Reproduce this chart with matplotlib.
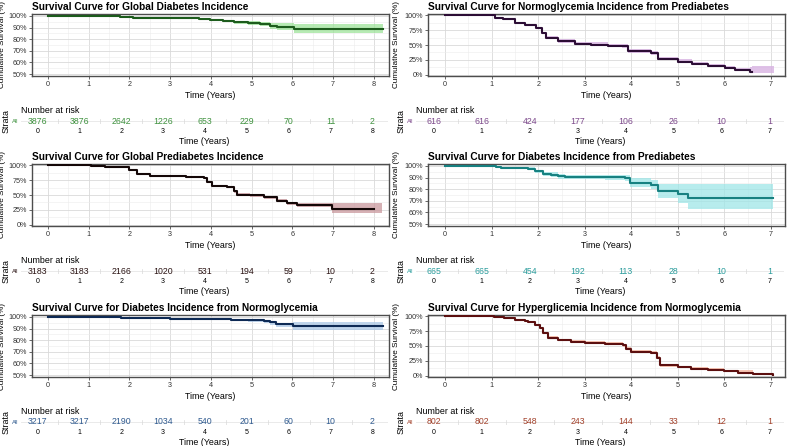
import matplotlib
matplotlib.use("Agg")
import matplotlib.pyplot as plt
import numpy as np

plt.rcParams['font.family'] = ['Liberation Sans', 'DejaVu Sans']

# ---- data ----
p1_title = "Survival Curve for Global Diabetes Incidence"
p1_time = [0, 1.5, 1.77, 1.95, 2.1, 2.4, 3.7, 3.98, 4.3, 4.56, 4.9, 5.2, 5.45, 5.62, 6.03, 8.22]
p1_surv = [100, 99.8, 99.3, 98.9, 98.4, 97.9, 97.6, 96.4, 95.8, 94.8, 94.2, 93.2, 91.5, 90.4, 89.0, 89.0]
p1_lower = [100, 99.7, 99.0, 98.5, 97.9, 97.3, 96.9, 95.5, 94.7, 93.4, 92.5, 91.1, 88.8, 87.6, 85.3, 85.3]
p1_upper = [100, 99.9, 99.5, 99.2, 98.8, 98.4, 98.2, 97.2, 96.8, 96.0, 95.7, 95.0, 94.0, 94.0, 93.4, 93.4]
p1_risk = [3876, 3876, 2642, 1226, 653, 229, 70, 11, 2]

p2_title = "Survival Curve for Normoglycemia Incidence from Prediabetes"
p2_time = [0, 1.08, 1.24, 1.49, 1.71, 1.96, 2.07, 2.17, 2.42, 2.78, 3.14, 3.5, 3.79, 3.93, 4.43,
           4.58, 5.0, 5.3, 5.65, 6.01, 6.23, 6.55, 6.6, 7.06]
p2_surv = [100, 96.5, 93.7, 86.8, 84.0, 79.0, 70.0, 62.0, 56.0, 52.0, 50.6, 48.0, 47.5, 39.0, 36.0,
           26.4, 22.0, 17.0, 14.4, 11.5, 7.5, 4.6, 4.6, 4.6]
p2_lower = [100, 95.6, 92.6, 85.4, 82.4, 77.3, 68.2, 60.1, 54.0, 50.0, 48.5, 45.9, 45.3, 36.9, 33.9,
            24.5, 20.2, 15.4, 12.8, 10.0, 6.2, 3.5, 3.0, 3.0]
p2_upper = [100, 97.6, 95.2, 88.6, 86.1, 81.3, 72.5, 65.0, 59.4, 55.6, 54.3, 51.9, 51.5, 42.8, 40.0,
            30.2, 25.8, 20.6, 18.0, 15.0, 10.8, 12.0, 14.0, 14.0]
p2_line_end = 6.6
p2_risk = [616, 616, 424, 177, 106, 26, 10, 1]

p3_title = "Survival Curve for Global Prediabetes Incidence"
p3_time = [0, 1.05, 1.4, 1.77, 2.0, 2.18, 2.5, 3.0, 3.4, 3.82, 3.9, 4.02, 4.39, 4.56, 4.64, 4.97,
           5.3, 5.62, 5.87, 6.12, 6.98, 8.0, 8.21]
p3_surv = [100, 99.0, 97.8, 96.6, 91.6, 86.0, 83.0, 81.5, 79.8, 78.7, 72.0, 65.7, 63.0, 56.0, 50.6,
           49.4, 46.0, 40.4, 36.0, 33.7, 27.0, 27.0, 27.0]
p3_lower = [100, 98.7, 97.3, 96.0, 90.8, 85.0, 81.9, 80.3, 78.5, 77.3, 70.4, 64.0, 61.2, 54.0, 48.5,
            47.2, 43.6, 37.8, 33.2, 30.5, 20.0, 20.0, 20.0]
p3_upper = [100, 99.3, 98.3, 97.2, 92.4, 87.0, 84.1, 82.7, 81.1, 80.1, 73.6, 67.4, 64.8, 58.0, 52.7,
            51.6, 48.4, 43.0, 38.8, 36.6, 36.6, 36.6, 36.6]
p3_line_end = 8.0
p3_risk = [3183, 3183, 2166, 1020, 531, 194, 59, 10, 2]

p4_title = "Survival Curve for Diabetes Incidence from Prediabetes"
p4_time = [0, 1.1, 1.2, 1.49, 1.78, 1.92, 2.1, 2.28, 2.42, 2.57, 3.43, 3.86, 3.97, 4.43, 4.58, 5.0, 5.22, 7.05]
p4_surv = [100, 99.3, 98.6, 98.0, 97.7, 95.4, 93.4, 92.5, 91.0, 90.5, 90.2, 89.7, 85.6, 84.0, 78.4, 75.6, 72.4, 72.4]
p4_lower = [100, 98.9, 97.9, 97.1, 96.7, 94.0, 91.7, 90.6, 89.0, 88.4, 88.0, 87.3, 82.0, 80.3, 72.4, 68.4, 63.2, 63.2]
p4_upper = [100, 99.7, 99.3, 98.9, 98.7, 96.7, 95.1, 94.4, 93.0, 92.6, 92.4, 92.1, 89.3, 88.3, 84.8, 84.2, 84.2, 84.2]
p4_risk = [665, 665, 454, 192, 113, 28, 10, 1]

p5_title = "Survival Curve for Diabetes Incidence from Normoglycemia"
p5_time = [0, 1.0, 1.2, 1.8, 2.0, 2.5, 3.0, 3.95, 4.5, 4.9, 5.3, 5.45, 5.6, 6.02, 8.22]
p5_surv = [100, 99.8, 99.6, 99.4, 99.0, 98.7, 98.5, 97.9, 97.5, 97.1, 96.4, 95.3, 93.6, 92.0, 92.0]
p5_lower = [100, 99.7, 99.4, 99.1, 98.6, 98.2, 97.9, 97.1, 96.5, 95.9, 94.9, 93.5, 91.5, 88.4, 88.4]
p5_upper = [100, 99.9, 99.8, 99.6, 99.3, 99.1, 99.0, 98.6, 98.3, 98.1, 97.6, 96.8, 95.2, 96.0, 96.0]
p5_risk = [3217, 3217, 2190, 1034, 540, 201, 60, 10, 2]

p6_title = "Survival Curve for Hyperglicemia Incidence from Normoglycemia"
p6_time = [0, 1.05, 1.27, 1.49, 1.71, 1.78, 1.92, 2.03, 2.1, 2.21, 2.42, 2.71, 3.0, 3.43, 3.82, 3.89,
           4.0, 4.43, 4.54, 4.61, 5.0, 5.29, 5.65, 6.0, 6.3, 6.62, 7.05]
p6_surv = [100, 98.5, 97.0, 94.3, 92.6, 91.0, 85.8, 81.3, 72.7, 64.0, 60.0, 57.4, 55.7, 53.4, 51.0, 45.5,
           39.8, 38.6, 30.0, 17.0, 14.2, 11.4, 10.2, 7.4, 4.5, 2.3, 1.7]
p6_lower = [100, 98.0, 96.3, 93.4, 91.6, 89.9, 84.5, 79.9, 71.2, 62.4, 58.3, 55.6, 53.9, 51.5, 49.0, 43.4,
            37.7, 36.4, 27.8, 15.2, 12.4, 9.7, 8.5, 5.9, 3.2, 1.3, 0.8]
p6_upper = [100, 99.0, 97.7, 95.3, 93.7, 92.2, 87.2, 82.9, 74.5, 66.1, 62.3, 59.9, 58.3, 56.1, 53.9, 48.4,
            42.8, 41.6, 33.0, 19.6, 16.8, 13.9, 12.7, 10.0, 9.0, 4.0, 3.5]
p6_risk = [802, 802, 548, 243, 144, 33, 12, 1]

panels = [
    dict(title=p1_title, t=p1_time, s=p1_surv, lo=p1_lower, hi=p1_upper, risk=p1_risk, end=None,
         line="#1d5c1d", fill="#9ee39a", num="#3f923f", ymin=50),
    dict(title=p2_title, t=p2_time, s=p2_surv, lo=p2_lower, hi=p2_upper, risk=p2_risk, end=p2_line_end,
         line="#2c0d35", fill="#d5ade0", num="#7d4a8c", ymin=0),
    dict(title=p3_title, t=p3_time, s=p3_surv, lo=p3_lower, hi=p3_upper, risk=p3_risk, end=p3_line_end,
         line="#140707", fill="#c9979d", num="#2b1414", ymin=0),
    dict(title=p4_title, t=p4_time, s=p4_surv, lo=p4_lower, hi=p4_upper, risk=p4_risk, end=None,
         line="#178181", fill="#9fe6e8", num="#2a9c9c", ymin=50),
    dict(title=p5_title, t=p5_time, s=p5_surv, lo=p5_lower, hi=p5_upper, risk=p5_risk, end=None,
         line="#0e2a55", fill="#abc8e6", num="#2f5a8f", ymin=50),
    dict(title=p6_title, t=p6_time, s=p6_surv, lo=p6_lower, hi=p6_upper, risk=p6_risk, end=None,
         line="#5c0f0f", fill="#f5b09a", num="#a2412b", ymin=0),
]

W, H = 788, 446
fig = plt.figure(figsize=(W / 100, H / 100), dpi=100)


def px_axes(left, top, right, bottom):
    return fig.add_axes([left / W, 1 - bottom / H, (right - left) / W, (bottom - top) / H])


row_off = [0, 150, 301]
main_x = [(32, 389), (428, 785)]
table_x = [(21, 388), (416, 784)]
xlims = [(-0.39, 8.37), (-0.37, 7.3)]
border = "#4d4d4d"

for i, p in enumerate(panels):
    row, col = i // 2, i % 2
    y0 = row_off[row]
    nmax = len(p["risk"]) - 1

    # --- survival curve ---
    left, right = main_x[col]
    ax = px_axes(left, y0 + 14, right, y0 + 76)
    t = np.array(p["t"])
    s = np.array(p["s"])
    ax.fill_between(t, p["lo"], p["hi"], step="post", color=p["fill"], alpha=0.75, lw=0, zorder=2)
    if p["end"] is not None:
        keep = t <= p["end"]
        ax.step(t[keep], s[keep], where="post", color=p["line"], lw=1.5, zorder=3)
    else:
        ax.step(t, s, where="post", color=p["line"], lw=1.5, zorder=3)

    ax.set_xlim(*xlims[col])
    ax.set_xticks(range(nmax + 1))
    ax.set_xticks(np.arange(0.5, nmax + 0.5, 1), minor=True)
    if p["ymin"] == 50:
        ax.set_ylim(48.3, 101.7)
        yt = [50, 60, 70, 80, 90, 100]
        ax.set_yticks(np.arange(55, 100, 10), minor=True)
    else:
        ax.set_ylim(-2.5, 102.5)
        yt = [0, 25, 50, 75, 100]
        ax.set_yticks([12.5, 37.5, 62.5, 87.5], minor=True)
    ax.set_yticks(yt)
    ax.set_yticklabels([f"{v}%" for v in yt])
    ax.grid(which="major", color="#d9d9d9", lw=0.6, zorder=0)
    ax.grid(which="minor", color="#ececec", lw=0.4, zorder=0)
    ax.set_axisbelow(True)
    for sp in ax.spines.values():
        sp.set_color(border)
        sp.set_linewidth(1.0)
    ax.tick_params(which="major", length=2, width=0.6, color=border, labelsize=5.2, pad=1.5,
                   labelcolor="#333333")
    ax.tick_params(which="minor", length=0)
    ax.set_xlabel("Time (Years)", fontsize=6.4, labelpad=2.5)
    ax.set_ylabel("Cumulative Survival (%)", fontsize=5.9)
    # label sits ~6 px from the column's left edge
    ax.yaxis.set_label_coords((394 * col + 6 - left) / (right - left), 0.5)
    ax.set_title(p["title"], loc="left", fontsize=7.3, fontweight="bold", pad=3)

    # --- number at risk table ---
    tb = px_axes(table_x[col][0], y0 + 118.5, table_x[col][1], y0 + 123.5)
    tb.set_xlim(*xlims[col])
    tb.set_ylim(0, 1)
    for k, n in enumerate(p["risk"]):
        tb.text(k, 0.5, str(n), color=p["num"], fontsize=6.3, ha="center", va="center", zorder=3)
    tb.axhline(0.5, color="#e6e6e6", lw=0.6, zorder=1)
    for xm in np.arange(0.5, nmax + 0.5, 1):
        tb.axvline(xm, color="#d9d9d9", lw=0.5, zorder=1)
    for sp in tb.spines.values():
        sp.set_visible(False)
    tb.set_xticks(range(nmax + 1))
    tb.set_yticks([0.5])
    tb.set_yticklabels(["All"])
    tb.get_yticklabels()[0].set_color(p["num"])
    tb.tick_params(axis="x", length=0, labelsize=5.0, pad=3)
    tb.tick_params(axis="y", length=0, labelsize=4.2, pad=2)
    tb.set_xlabel("Time (Years)", fontsize=6.4, labelpad=1.5)
    tb.set_ylabel("Strata", fontsize=6.4, labelpad=1)
    tb.set_title("Number at risk", loc="left", fontsize=6.4, pad=4)

fig.savefig("out.png", dpi=100)
